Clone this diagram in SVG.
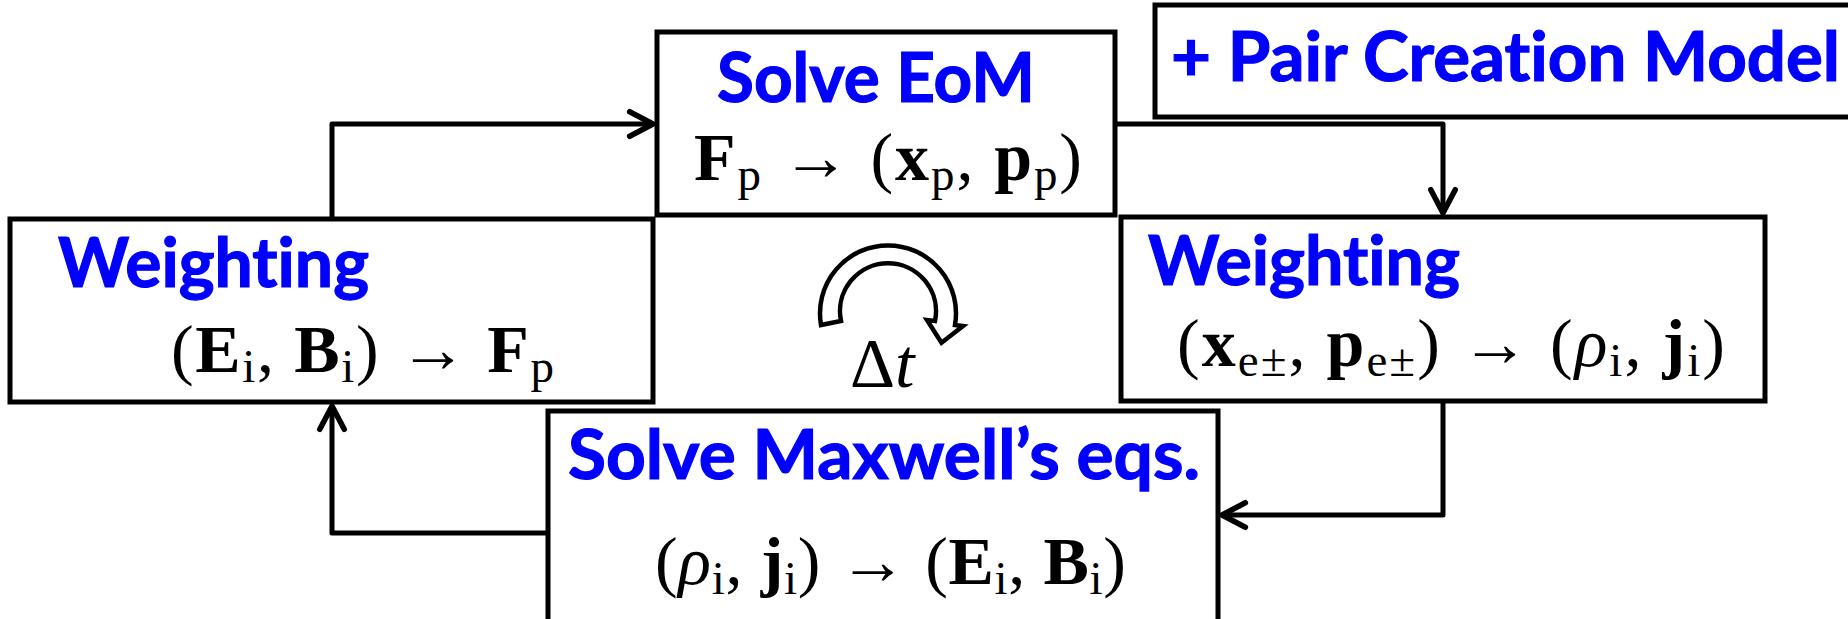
<svg xmlns="http://www.w3.org/2000/svg" width="1848" height="619" viewBox="0 0 1848 619">
<style>
.box{fill:#fff;stroke:#000;stroke-width:5;stroke-linejoin:miter}
.title{font-family:Lato,"Open Sans","Liberation Sans",sans-serif;font-weight:bold;font-size:68px;fill:#0000ff;font-variant-ligatures:none;stroke:#0000ff;stroke-width:1.2}
.math{font-family:"Liberation Serif","DejaVu Serif",serif;font-size:68px;fill:#000}
.b{font-weight:bold}
.s{font-size:47px}
.i{font-style:italic}
.conn{fill:none;stroke:#000;stroke-width:5;stroke-linejoin:round}
</style>
<defs>
<marker id="arr" markerUnits="userSpaceOnUse" markerWidth="40" markerHeight="40" viewBox="-30 -15 36 30" refX="0" refY="0" orient="auto">
<path d="M -21 -11 L 0 0 L -21 11" fill="none" stroke="#000" stroke-width="5" stroke-linecap="round" stroke-linejoin="round"/>
</marker>
</defs>
<rect width="1848" height="619" fill="#fff"/>
<g id="connectors">
<path class="conn" d="M 332 217 L 332 124 L 653 124" marker-end="url(#arr)"/>
<path class="conn" d="M 1115 124 L 1443 124 L 1443 213" marker-end="url(#arr)"/>
<path class="conn" d="M 1443 401 L 1443 515 L 1222 515" marker-end="url(#arr)"/>
<path class="conn" d="M 548 533 L 332 533 L 332 406" marker-end="url(#arr)"/>
</g>
<g id="node-solve-eom">
<rect class="box" x="657" y="32" width="458" height="183"/>
<text class="title" x="717" y="102" textLength="318" lengthAdjust="spacingAndGlyphs">Solve EoM</text>
<text class="math" x="694" y="180" textLength="388" lengthAdjust="spacing"><tspan class="b">F</tspan><tspan class="s" dy="10">p</tspan><tspan dy="-10"> → (</tspan><tspan class="b">x</tspan><tspan class="s" dy="10">p</tspan><tspan dy="-10">, </tspan><tspan class="b">p</tspan><tspan class="s" dy="10">p</tspan><tspan dy="-10">)</tspan></text>
</g>
<g id="node-pair">
<rect class="box" x="1155" y="5" width="720" height="112"/>
<text class="title" x="1171" y="81" textLength="669" lengthAdjust="spacingAndGlyphs">+ Pair Creation Model</text>
</g>
<g id="node-weight-left">
<rect class="box" x="10" y="219" width="643" height="183"/>
<text class="title" x="58" y="287" textLength="311" lengthAdjust="spacingAndGlyphs">Weighting</text>
<text class="math" x="171" y="372" textLength="383" lengthAdjust="spacing">(<tspan class="b">E</tspan><tspan class="s" dy="10">i</tspan><tspan dy="-10">, </tspan><tspan class="b">B</tspan><tspan class="s" dy="10">i</tspan><tspan dy="-10">) → </tspan><tspan class="b">F</tspan><tspan class="s" dy="10">p</tspan></text>
</g>
<g id="node-weight-right">
<rect class="box" x="1121" y="217" width="644" height="184"/>
<text class="title" x="1148" y="285" textLength="312" lengthAdjust="spacingAndGlyphs">Weighting</text>
<text class="math" x="1177" y="366" textLength="548" lengthAdjust="spacing">(<tspan class="b">x</tspan><tspan class="s" dy="10">e±</tspan><tspan dy="-10">, </tspan><tspan class="b">p</tspan><tspan class="s" dy="10">e±</tspan><tspan dy="-10">) → (</tspan><tspan class="i">ρ</tspan><tspan class="s" dy="10">i</tspan><tspan dy="-10">, </tspan><tspan class="b">j</tspan><tspan class="s" dy="10">i</tspan><tspan dy="-10">)</tspan></text>
</g>
<g id="node-maxwell">
<rect class="box" x="548" y="411" width="670" height="230"/>
<text class="title" x="568" y="479" textLength="632" lengthAdjust="spacingAndGlyphs">Solve Maxwell’s eqs.</text>
<text class="math" x="655" y="584" textLength="471" lengthAdjust="spacing">(<tspan class="i">ρ</tspan><tspan class="s" dy="10">i</tspan><tspan dy="-10">, </tspan><tspan class="b">j</tspan><tspan class="s" dy="10">i</tspan><tspan dy="-10">) → (</tspan><tspan class="b">E</tspan><tspan class="s" dy="10">i</tspan><tspan dy="-10">, </tspan><tspan class="b">B</tspan><tspan class="s" dy="10">i</tspan><tspan dy="-10">)</tspan></text>
</g>
<g id="node-loop">
<path d="M 821 325 A 68 68 0 1 1 955 325 L 963 326 L 941.5 342.7 L 927 320 L 935 321 A 48 48 0 1 0 841 321 Z" fill="#fff" stroke="#000" stroke-width="4.5" stroke-linejoin="miter"/>
<text class="math" x="850" y="387" style="font-size:70px">Δ<tspan class="i">t</tspan></text>
</g>
</svg>
